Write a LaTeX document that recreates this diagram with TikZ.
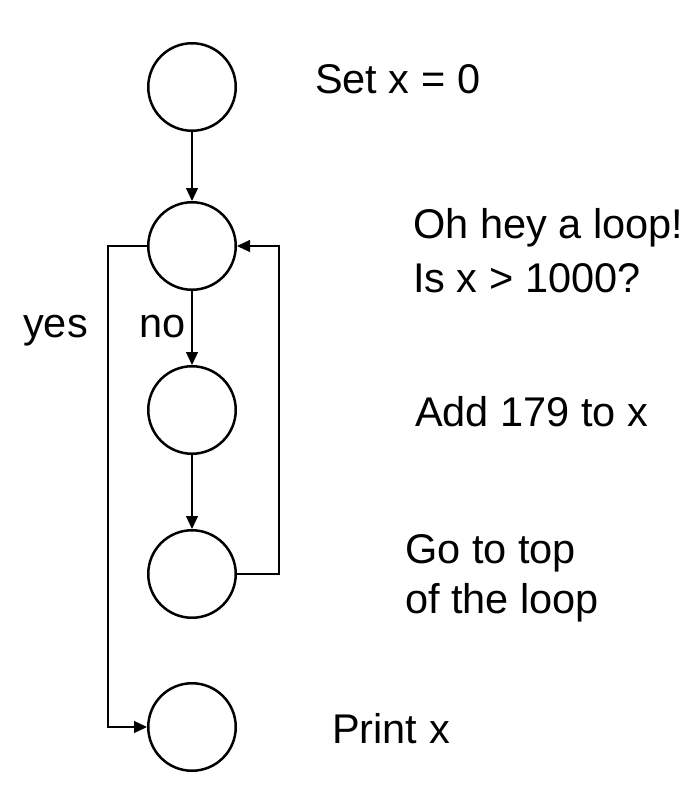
\documentclass[tikz,border=0pt]{standalone}
\usepackage{fontspec}
\setmainfont{Liberation Sans}
\usetikzlibrary{arrows.meta}
\begin{document}
\begin{tikzpicture}[x=1pt,y=-1pt,
  stepcircle/.style={circle,draw=black,line width=2.5pt,minimum size=87.5pt,inner sep=0pt},
  conn/.style={draw=black,line width=1.2pt,-{Triangle[length=13pt,width=12pt]}},
  lbl/.style={anchor=base west,inner sep=0pt,font=\fontsize{41.5}{50}\selectfont}]
\useasboundingbox (0,0) rectangle (700,800);
\fill[white] (0,0) rectangle (700,800);
% circles
\node[stepcircle] (c1) at (192,87) {};
\node[stepcircle] (c2) at (192,246) {};
\node[stepcircle] (c3) at (192,410) {};
\node[stepcircle] (c4) at (192,574) {};
\node[stepcircle] (c5) at (192,727) {};
% connectors
\draw[conn] (c1.south) -- (c2.north);
\draw[conn] (c2.south) -- (c3.north);
\draw[conn] (c3.south) -- (c4.north);
\coordinate (rt) at (279,574);
\draw[conn] (c4.east) -- (rt) |- (c2.east);
\coordinate (lt) at (108,246);
\draw[conn] (c2.west) -- (lt) |- (c5.west);
% labels
\node[lbl] (t1) at (315,93) {Set x = 0};
\node[lbl] (t2a) at (413,238) {Oh hey a loop!};
\node[lbl] (t2b) at (413,292) {Is x > 1000?};
\node[lbl] (t3) at (415,426) {Add 179 to x};
\node[lbl] (t4a) at (405,563) {Go to top};
\node[lbl] (t4b) at (405,613) {of the loop};
\node[lbl] (t5) at (332,743) {Print x};
\node[lbl] (yes) at (23,337) {yes};
\node[lbl] (no) at (139,337) {no};
\end{tikzpicture}
\end{document}
